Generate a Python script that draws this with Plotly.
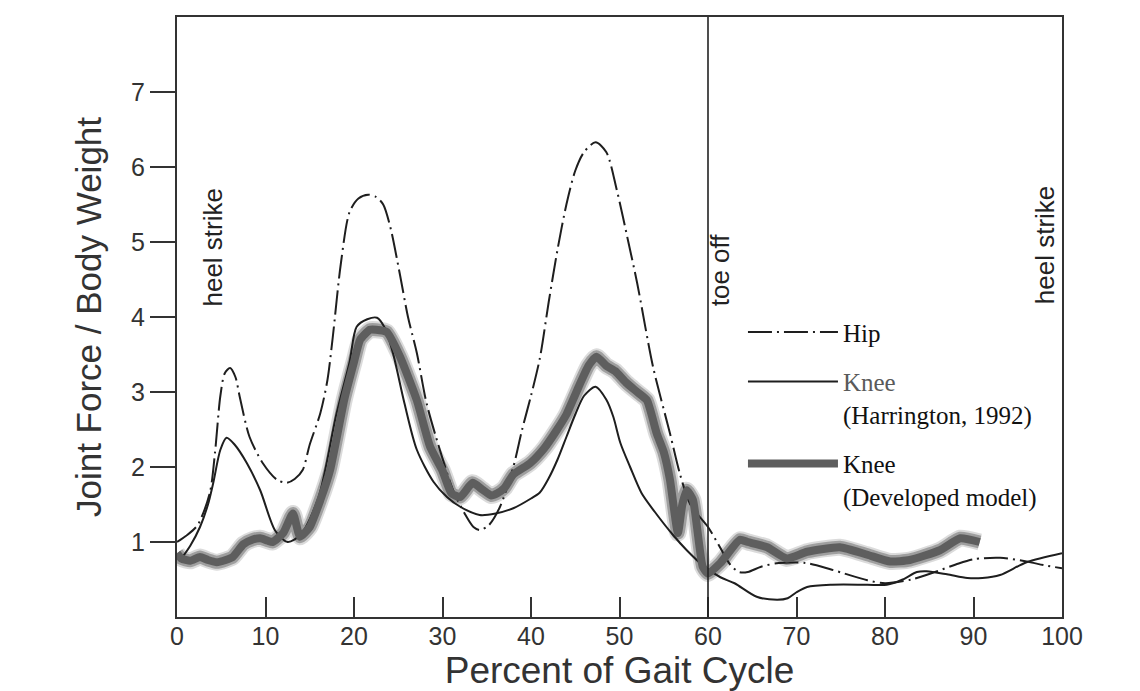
import plotly.graph_objects as go

# ---------------- data ----------------
hip_x = [0, 1, 2.3, 3.7, 4.3, 4.9, 5.4, 6.0, 6.6, 7.1, 8.2, 9.7, 11.3, 12.4, 13.3, 14.2, 15.0, 16.2,
         17.0, 17.6, 18.5, 19.5, 20.5, 21.6, 22.5, 23.3, 24.1, 25.2, 26.1, 27.1, 28.2, 29.7, 31.2,
         32.5, 33.5, 34.2, 35.2, 36.5, 38.0, 39.0, 40.0, 41.0, 42.0, 43.0, 44.0, 45.0, 46.0, 47.3,
         48.5, 49.7, 51.0, 52.0, 53.8, 55.7, 56.8, 58.0, 60.0, 61.5, 62.5, 63.5, 64.5, 66.0, 68.0,
         71.0, 74.0, 78.0, 80.0, 83.0, 85.4, 88.0, 90.0, 93.0, 96.0, 98.0, 100]
hip_y = [1.0, 1.08, 1.22, 1.65, 2.2, 2.95, 3.25, 3.32, 3.2, 2.93, 2.4, 2.05, 1.83, 1.79, 1.84, 1.96,
         2.3, 2.72, 3.16, 3.73, 4.7, 5.4, 5.58, 5.63, 5.6, 5.5, 5.2, 4.56, 4.0, 3.52, 2.85, 2.23, 1.69,
         1.38, 1.2, 1.16, 1.22, 1.47, 2.0, 2.5, 2.95, 3.45, 4.2, 4.9, 5.5, 5.95, 6.2, 6.33, 6.2, 5.69,
         5.0, 4.45, 3.33, 2.45, 1.92, 1.5, 1.2, 0.9, 0.7, 0.6, 0.6, 0.67, 0.72, 0.72, 0.63, 0.49, 0.45,
         0.5, 0.59, 0.7, 0.77, 0.79, 0.74, 0.69, 0.65]

knee_x = [0.5, 1.5, 2.6, 3.5, 4.1, 4.9, 5.6, 6.5, 7.9, 9.4, 11.1, 12.5, 14.0, 16.0, 18.0, 19.5, 20.3,
          21.5, 22.6, 23.5, 24.4, 25.7, 27.1, 29.0, 30.5, 32.0, 34.2, 36.0, 38.0, 40.0, 41.0, 42.0,
          43.0, 44.0, 45.0, 46.0, 47.3, 48.5, 49.3, 50.1, 51.2, 52.5, 54.0, 56.0, 57.6, 59.5, 61.4,
          63.0, 65.5, 67.8, 69.0, 70.0, 71.2, 74.0, 78.0, 80.2, 82.0, 83.6, 84.7, 87.0, 89.3, 91.0,
          93.0, 96.0, 100]
knee_y = [0.78, 0.95, 1.2, 1.5, 1.79, 2.23, 2.39, 2.3, 2.05, 1.69, 1.15, 1.0, 1.1, 1.6, 2.7, 3.4,
          3.87, 3.97, 3.99, 3.85, 3.52, 2.85, 2.23, 1.8, 1.6, 1.47, 1.36, 1.38, 1.45, 1.58, 1.66,
          1.85, 2.1, 2.4, 2.7, 2.95, 3.07, 2.9, 2.67, 2.32, 2.0, 1.65, 1.4, 1.1, 0.89, 0.68, 0.53,
          0.45, 0.27, 0.23, 0.25, 0.33, 0.4, 0.43, 0.43, 0.43, 0.5, 0.6, 0.61, 0.57, 0.52, 0.52,
          0.56, 0.73, 0.85]

dev_x = [0, 0.5, 1.5, 2.6, 3.5, 4.5, 5.5, 6.3, 7.5, 8.5, 9.4, 10.2, 10.8, 12.0, 13.1, 13.9, 15.0,
         16.2, 17.3, 18.9, 20.0, 20.7, 21.8, 22.5, 23.7, 25.2, 27.1, 28.6, 30.0, 31.0, 32.0, 33.4,
         34.5, 35.5, 36.2, 37.0, 38.0, 39.9, 41.5, 42.9, 44.0, 45.5, 46.5, 47.4, 48.5, 49.5, 50.8,
         52.0, 53.1, 54.2, 55.0, 55.7, 56.6, 57.1, 57.6, 58.3, 59.4, 60.0, 61.4, 63.6, 64.5, 66.7,
         68.9, 71.2, 74.9, 78.0, 80.6, 82.8, 86.2, 88.5, 90.7]
dev_y = [0.85, 0.78, 0.75, 0.8, 0.76, 0.73, 0.76, 0.8, 0.97, 1.03, 1.05, 1.02, 1.0, 1.12, 1.38, 1.07,
         1.2, 1.56, 1.96, 2.9, 3.4, 3.7, 3.83, 3.83, 3.8, 3.47, 2.89, 2.27, 1.95, 1.65, 1.6, 1.79,
         1.7, 1.62, 1.65, 1.72, 1.9, 2.05, 2.25, 2.49, 2.7, 3.1, 3.35, 3.47, 3.35, 3.28, 3.12, 3.0,
         2.89, 2.45, 2.2, 1.83, 1.12, 1.5, 1.69, 1.56, 0.67, 0.58, 0.72, 1.03, 1.0, 0.93, 0.78, 0.87,
         0.93, 0.83, 0.74, 0.76, 0.89, 1.05, 1.0]

x_ticks = [0, 10, 20, 30, 40, 50, 60, 70, 80, 90, 100]
y_ticks = [1, 2, 3, 4, 5, 6, 7]
toe_off_x = 60
events = [("heel strike", 4.1, 4.93), ("toe off", 61.3, 4.63), ("heel strike", 98.1, 4.96)]

# ---------------- figure ----------------
fig = go.Figure()

# blurred thick line (developed model): soft halo + core
fig.add_trace(go.Scatter(x=dev_x, y=dev_y, mode="lines", showlegend=False, hoverinfo="skip",
                         line=dict(color="rgba(110,110,110,0.25)", width=17, shape="spline", smoothing=0.5)))
fig.add_trace(go.Scatter(x=dev_x, y=dev_y, mode="lines", showlegend=False, hoverinfo="skip",
                         line=dict(color="rgba(100,100,100,0.5)", width=13, shape="spline", smoothing=0.5)))

fig.add_trace(go.Scatter(x=hip_x, y=hip_y, mode="lines", name="Hip", legendgroup="a",
                         line=dict(color="#1e1e1e", width=2, dash="24px,5px,2px,5px",
                                   shape="spline", smoothing=0.8)))
fig.add_trace(go.Scatter(x=knee_x, y=knee_y, mode="lines",
                         name="<span style='color:#5a5a5a'>Knee</span><br>(Harrington, 1992)",
                         legendgroup="b",
                         line=dict(color="#1e1e1e", width=2, shape="spline", smoothing=0.8)))
fig.add_trace(go.Scatter(x=dev_x, y=dev_y, mode="lines", name="Knee<br>(Developed model)",
                         legendgroup="c",
                         line=dict(color="#5e5e5e", width=8, shape="spline", smoothing=0.5)))

fig.add_shape(type="line", x0=toe_off_x, x1=toe_off_x, y0=0, y1=1, xref="x", yref="paper",
              line=dict(color="#222222", width=1.6))

for txt, ex, ey in events:
    fig.add_annotation(x=ex, y=ey, xref="x", yref="y", text=txt, showarrow=False, textangle=-90,
                       font=dict(family="Liberation Sans, Arial, sans-serif", size=26, color="#222222"))

axis_font = dict(family="Liberation Sans, Arial, sans-serif", size=25, color="#333333")

# the page body adds an 8px offset, so the figure is 8px smaller than the window
fig.update_layout(
    width=1132, height=683,
    margin=dict(l=169, r=78, t=9, b=74),
    paper_bgcolor="white", plot_bgcolor="white",
    font=dict(family="Liberation Sans, Arial, sans-serif", color="#333333"),
    showlegend=True,
    legend=dict(x=0.6395, y=0.513, xanchor="left", yanchor="top", bgcolor="rgba(0,0,0,0)",
                itemwidth=90, tracegroupgap=14, valign="top",
                font=dict(family="Liberation Serif, Times New Roman, serif", size=25, color="#111111")),
    xaxis=dict(range=[0, 100], tickvals=x_ticks, ticktext=[str(v) for v in x_ticks],
               ticks="inside", ticklen=20, tickwidth=1.5, tickcolor="#333333",
               showline=True, linecolor="#333333", linewidth=2, mirror=True, automargin=False,
               showgrid=False, zeroline=False, tickfont=axis_font, ticklabelstandoff=-4,
               title=dict(text="Percent of Gait Cycle", standoff=3,
                          font=dict(family="Liberation Sans, Arial, sans-serif", size=37, color="#333333"))),
    yaxis=dict(range=[0, 8], tickvals=y_ticks, ticks="outside", ticklen=25, tickwidth=1.5,
               tickcolor="#333333", showline=True, linecolor="#333333", linewidth=2, mirror=True,
               automargin=False, showgrid=False, zeroline=False, tickfont=axis_font,
               title=dict(text="Joint Force / Body Weight", standoff=19,
                          font=dict(family="Liberation Sans, Arial, sans-serif", size=35, color="#333333"))),
)

fig.write_html("out.html")
